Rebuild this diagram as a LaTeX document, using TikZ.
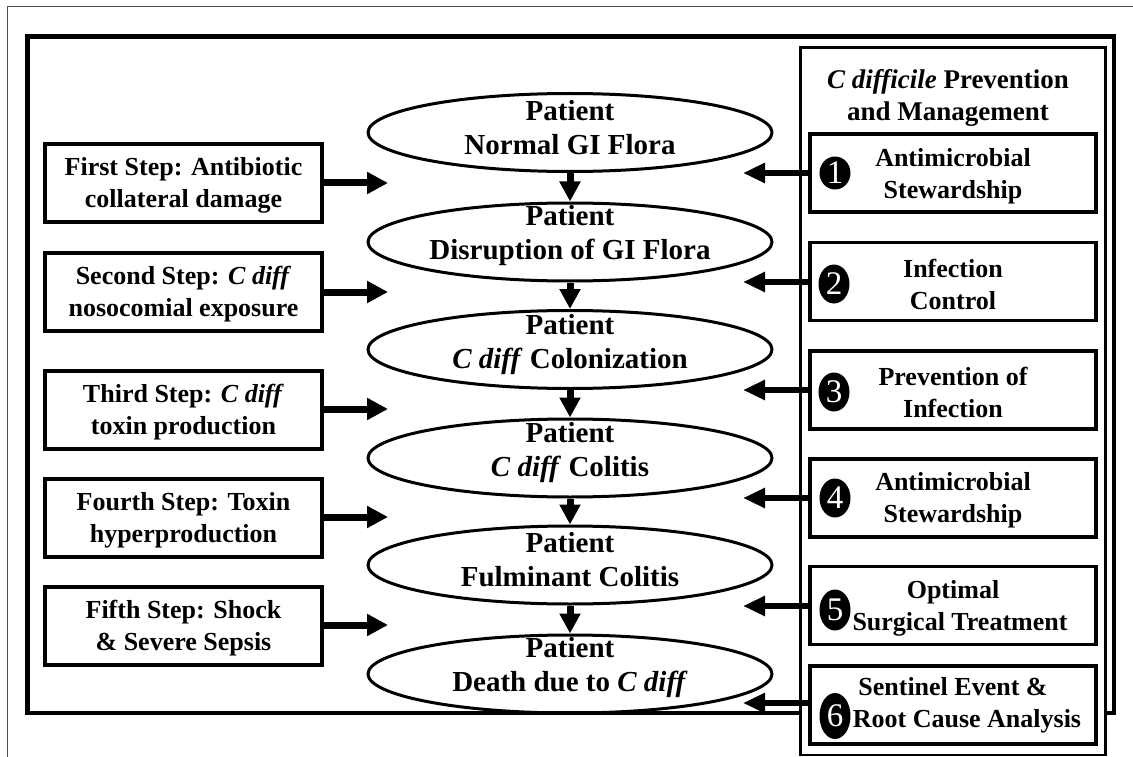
\documentclass[tikz,border=0pt]{standalone}
\usepackage{fontspec}
\setmainfont{Liberation Serif}
\usetikzlibrary{arrows.meta,shapes.geometric}
\begin{document}
\begin{tikzpicture}[x=1pt,y=-1pt,
  ell/.style={draw,line width=3pt,ellipse,minimum width=404pt,minimum height=78pt,inner sep=0pt},
  etxt/.style={font=\fontsize{29}{34}\selectfont\bfseries,align=center,inner sep=0pt},
  lbox/.style={draw,line width=3.3pt,minimum width=277pt,minimum height=78pt,inner sep=0pt},
  rbox/.style={draw,line width=3.5pt,minimum width=286pt,minimum height=78pt,inner sep=0pt},
  btxt/.style={font=\fontsize{26}{32}\selectfont\bfseries,align=center,inner sep=0pt},
  numc/.style={ellipse,fill=black,minimum width=31pt,minimum height=39pt,inner sep=0pt,text=white,font=\fontsize{33}{33}\selectfont},
  larrow/.style={line width=7pt,-{Triangle[length=21pt,width=21pt]}},
  darrow/.style={line width=7pt,-{Triangle[length=20pt,width=20pt]}},
  rarrow/.style={line width=6pt,-{Triangle[length=22pt,width=19pt]}}
]
\useasboundingbox (0,0) rectangle (1133,757);
\begin{scope}
  \clip (0,0) rectangle (1133,757);
  \draw[black!70,line width=1pt] (7,7) rectangle (1200,800);
\end{scope}
% thick frame
\draw[line width=4.5pt] (27.5,36.5) rectangle (1114,713);
% right panel
\draw[line width=2.5pt,fill=white] (800.5,47.5) rectangle (1105.5,755);
\node[btxt,font=\fontsize{27}{32}\selectfont\bfseries] (title) at (948,98) {\textit{C difficile} Prevention\\and Management};

% ellipses
\foreach \i/\y in {1/132.5,2/242,3/349.5,4/458,5/565,6/674}{
  \node[ell] (e\i) at (570,\y) {};
}
\node[etxt] (t1) at (570,127.5) {Patient\\Normal GI Flora};
\node[etxt] (t2) at (570,236) {Patient\\Disruption of GI Flora};
\node[etxt] (t3) at (570,344.5) {Patient\\\textit{C diff} Colonization};
\node[etxt] (t4) at (570,453) {Patient\\\textit{C diff} Colitis};
\node[etxt] (t5) at (570,560) {Patient\\Fulminant Colitis};
\node[etxt] (t6) at (570,668) {Patient\\Death due to \textit{C diff}};
\foreach \a/\b in {1/2,2/3,3/4,4/5,5/6}{
  \draw[darrow] (e\a.south) -- (e\b.north);
}

% left boxes
\node[lbox] (l1) at (183.5,183) {};
\node[lbox] (l2) at (183.5,292) {};
\node[lbox] (l3) at (183.5,410) {};
\node[lbox] (l4) at (183.5,518) {};
\node[lbox] (l5) at (183.5,626) {};
\node[btxt] (lt1) at (183.5,185) {First Step: Antibiotic\\collateral damage};
\node[btxt] (lt2) at (183.5,294) {Second Step: \textit{C diff}\\nosocomial exposure};
\node[btxt] (lt3) at (183.5,412) {Third Step: \textit{C diff}\\toxin production};
\node[btxt] (lt4) at (183.5,520) {Fourth Step: Toxin\\hyperproduction};
\node[btxt] (lt5) at (183.5,628) {Fifth Step: Shock\\\& Severe Sepsis};
\foreach \i/\y in {1/183,2/292,3/409,4/517,5/625}{
  \coordinate (lp\i) at (388,\y);
  \draw[larrow] (l\i.east |- lp\i) -- (lp\i);
}

% right boxes
\node[rbox] (r1) at (953,173) {};
\node[rbox] (r2) at (953,281.5) {};
\node[rbox] (r3) at (953,390) {};
\node[rbox] (r4) at (953,498) {};
\node[rbox] (r5) at (953,605.5) {};
\node[rbox] (r6) at (953,705) {};
\node[btxt] (rt1) at (953,176) {Antimicrobial\\Stewardship};
\node[btxt] (rt2) at (953,284) {Infection\\Control};
\node[btxt] (rt3) at (953,392) {Prevention of\\Infection};
\node[btxt] (rt4) at (953,500) {Antimicrobial\\Stewardship};
\node[btxt] (rt5) at (953,608) {Optimal\\\hspace*{14pt}Surgical Treatment};
\node[btxt] (rt6) at (953,705) {Sentinel Event \&\\\hspace*{28pt}Root Cause Analysis};
\foreach \i/\y in {1/173,2/282,3/390,4/498,5/606,6/703}{
  \coordinate (rp\i) at (743,\y);
  \draw[rarrow] (r\i.west |- rp\i) -- (rp\i);
}
% numbered circles
\node[numc,minimum height=33pt] (c1) at (835,173) {1};
\node[numc] (c2) at (834,284) {2};
\node[numc] (c3) at (834,392) {3};
\node[numc] (c4) at (835,498) {4};
\node[numc,minimum height=41pt] (c5) at (835,610) {5};
\node[numc,minimum height=46pt] (c6) at (835,716) {6};
\end{tikzpicture}
\end{document}
